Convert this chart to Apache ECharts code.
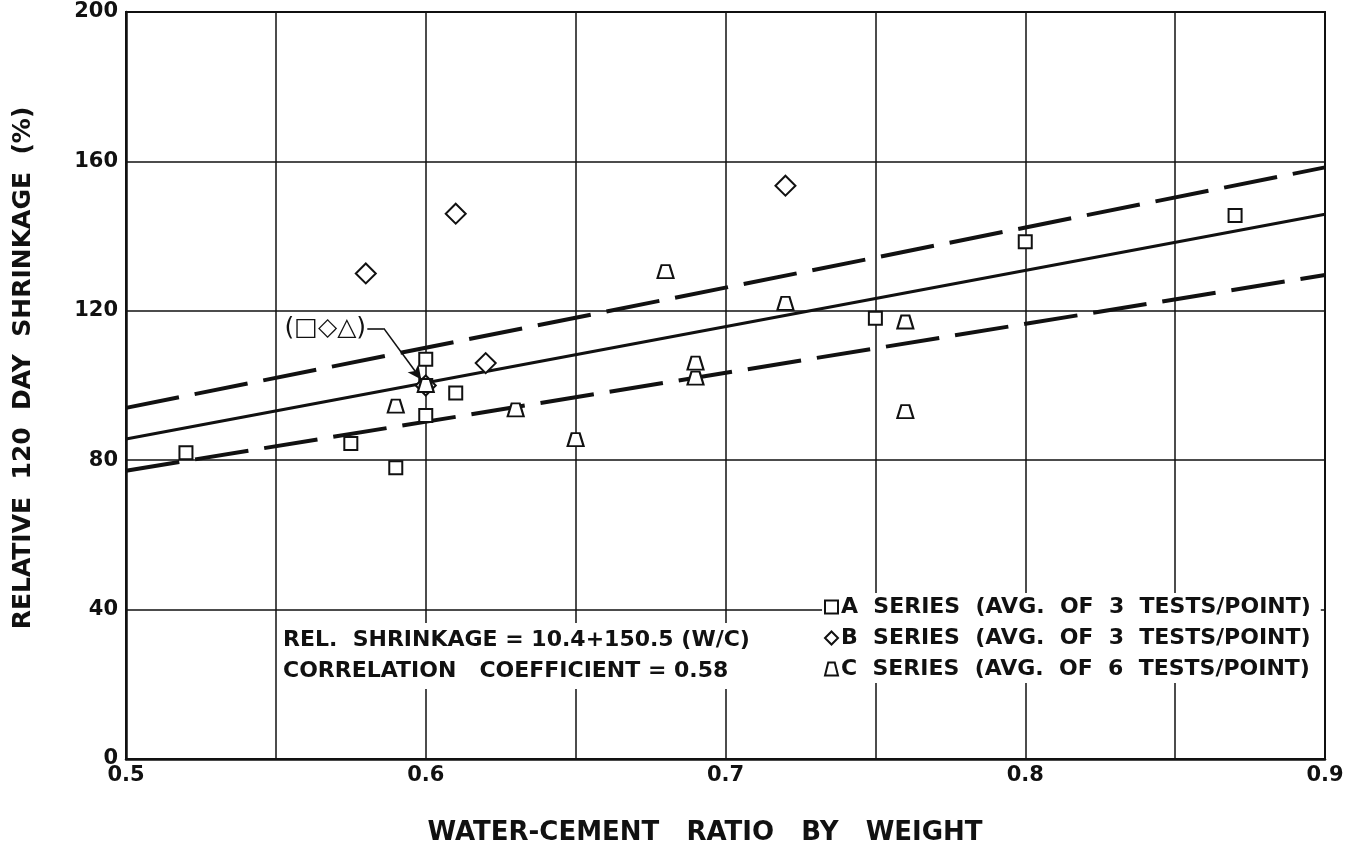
<!DOCTYPE html>
<html>
<head>
<meta charset="utf-8">
<script src="https://cdn.jsdelivr.net/npm/echarts@6/dist/echarts.min.js"></script>
<style>
  html, body { margin: 0; padding: 0; background: #fff; }
  #chart { width: 1356px; height: 850px; }
</style>
</head>
<body>
<div id="chart"></div>
<script>
// Relative 120-day shrinkage (%) against water-cement ratio, three test series
const xTickLabels = ['0.5', '0.6', '0.7', '0.8', '0.9'];
const yTickLabels = ['0', '40', '80', '120', '160', '200'];

const seriesA = [[0.52, 82], [0.575, 84.5], [0.59, 78], [0.6, 100], [0.6, 107], [0.6, 92],
                 [0.61, 98], [0.75, 118], [0.8, 138.5], [0.87, 145.5]];
const seriesB = [[0.58, 130], [0.6, 100], [0.61, 146], [0.62, 106], [0.72, 153.5]];
const seriesC = [[0.59, 94.5], [0.6, 100], [0.63, 93.5], [0.65, 85.5], [0.68, 130.5],
                 [0.69, 106], [0.69, 102], [0.72, 122], [0.76, 117], [0.76, 93]];

// Least-squares fit: REL. SHRINKAGE = 10.4 + 150.5 (W/C)
const fitIntercept = 10.4;
const fitSlope = 150.5;
const fitRange = [0.5, 0.9];
// Dashed limit lines (end values)
const upperLimit = [[0.5, 94], [0.9, 158.4]];
const lowerLimit = [[0.5, 77.2], [0.9, 129.6]];

// Callout for the point shared by all three series
const calloutLabelAt = [0.5665, 115.3];
const calloutPath = [[0.5805, 115.3], [0.586, 115.3], [0.5985, 101.6]];
const calloutText = '(□◇△)';

const seriesNames = [
  'A  SERIES  (AVG.  OF  3  TESTS/POINT)',
  'B  SERIES  (AVG.  OF  3  TESTS/POINT)',
  'C  SERIES  (AVG.  OF  6  TESTS/POINT)'
];
const equationLines = [
  'REL.  SHRINKAGE = 10.4+150.5 (W/C)',
  'CORRELATION   COEFFICIENT = 0.58'
];
const xTitle = 'WATER-CEMENT   RATIO   BY   WEIGHT';
const yTitle = 'RELATIVE  120  DAY  SHRINKAGE  (%)';

const FONT = "'DejaVu Sans', 'Liberation Sans', sans-serif";
const INK = '#111';

const trapezoid = 'path://M3,0L9,0L12,12L0,12Z';
const markerStyle = { color: '#fff', borderColor: INK, borderWidth: 2, opacity: 1 };

const fitLine = fitRange.map(x => [x, fitIntercept + fitSlope * x]);

const chart = echarts.init(document.getElementById('chart'), null, { renderer: 'canvas' });

const option = {
  backgroundColor: '#fff',
  animation: false,
  textStyle: { fontFamily: FONT, color: INK },
  grid: {
    left: 126, right: 31, top: 12, bottom: 91,
    show: true, borderColor: INK, borderWidth: 2, backgroundColor: 'transparent'
  },
  xAxis: {
    type: 'value', min: 0.5, max: 0.9, interval: 0.05,
    axisLine: { show: true, onZero: false, lineStyle: { color: INK, width: 2.5 } },
    axisTick: { show: false },
    splitLine: { show: true, lineStyle: { color: INK, width: 1.5 } },
    axisLabel: {
      fontFamily: FONT, fontSize: 21, fontWeight: 'bold', color: INK, margin: 6,
      formatter: v => {
        const s = (Math.round(v * 100) / 100).toFixed(1);
        return xTickLabels.indexOf(s) >= 0 && Math.abs(v * 10 - Math.round(v * 10)) < 1e-6 ? s : '';
      }
    }
  },
  yAxis: {
    type: 'value', min: 0, max: 200, interval: 40,
    axisLine: { show: true, onZero: false, lineStyle: { color: INK, width: 2.5 } },
    axisTick: { show: false },
    splitLine: { show: true, lineStyle: { color: INK, width: 1.5 } },
    axisLabel: {
      fontFamily: FONT, fontSize: 21, fontWeight: 'bold', color: INK, margin: 8,
      formatter: v => yTickLabels.indexOf(String(v)) >= 0 ? String(v) : ''
    }
  },
  legend: {
    orient: 'vertical',
    left: 822, top: 593,
    itemWidth: 13, itemHeight: 13, itemGap: 9,
    backgroundColor: '#fff',
    padding: [3, 10, 3, 2],
    textStyle: { fontFamily: FONT, fontSize: 22, fontWeight: 'bold', color: INK, padding: [0, 0, 0, -2] },
    inactiveColor: INK,
    selectedMode: false,
    data: [
      { name: seriesNames[0], icon: 'rect' },
      { name: seriesNames[1], icon: 'diamond' },
      { name: seriesNames[2], icon: trapezoid }
    ]
  },
  series: [
    {
      type: 'line', data: upperLimit, symbol: 'none', silent: true, z: 3,
      lineStyle: { color: INK, width: 4, type: [54, 16] }
    },
    {
      type: 'line', data: lowerLimit, symbol: 'none', silent: true, z: 3,
      lineStyle: { color: INK, width: 4, type: [54, 16] }
    },
    {
      type: 'line', data: fitLine, symbol: 'none', silent: true, z: 3,
      lineStyle: { color: INK, width: 3 }
    },
    {
      type: 'line', data: [], symbol: 'none', silent: true, z: 4,
      markLine: {
        silent: true, animation: false,
        lineStyle: { color: INK, width: 1.6, type: 'solid' },
        label: { show: false },
        symbolSize: [10, 14],
        data: [
          [{ coord: calloutPath[0], symbol: 'none' }, { coord: calloutPath[1], symbol: 'none' }],
          [{ coord: calloutPath[1], symbol: 'none' }, { coord: calloutPath[2], symbol: 'arrow' }]
        ]
      }
    },
    {
      name: seriesNames[0], type: 'scatter', data: seriesA, z: 5,
      symbol: 'rect', symbolSize: 13, itemStyle: markerStyle
    },
    {
      name: seriesNames[1], type: 'scatter', data: seriesB, z: 5,
      symbol: 'diamond', symbolSize: 20, itemStyle: markerStyle
    },
    {
      name: seriesNames[2], type: 'scatter', data: seriesC, z: 5,
      symbol: trapezoid, symbolSize: [16, 13], itemStyle: markerStyle
    }
  ]
};

chart.setOption(option);

// Text blocks placed after layout so the callout label follows the data scale
const lbl = chart.convertToPixel({ gridIndex: 0 }, calloutLabelAt);
chart.setOption({
  graphic: [
    {
      type: 'text', left: 281, top: 623, z: 10,
      style: {
        text: equationLines.join('\n'), font: 'bold 22px ' + FONT, fill: INK,
        lineHeight: 31, backgroundColor: '#fff', padding: [2, 4, 2, 2]
      }
    },
    {
      type: 'text', x: lbl[0], y: lbl[1], z: 10,
      style: { text: calloutText, font: '25px ' + FONT, fill: INK, align: 'center', verticalAlign: 'middle' }
    },
    {
      type: 'text', x: 705, y: 833, z: 10,
      style: { text: xTitle, font: 'bold 26px ' + FONT, fill: INK, align: 'center', verticalAlign: 'middle' }
    },
    {
      type: 'text', x: 23, y: 368, rotation: Math.PI / 2, z: 10,
      style: { text: yTitle, font: 'bold 25px ' + FONT, fill: INK, align: 'center', verticalAlign: 'middle' }
    }
  ]
});
</script>
</body>
</html>
